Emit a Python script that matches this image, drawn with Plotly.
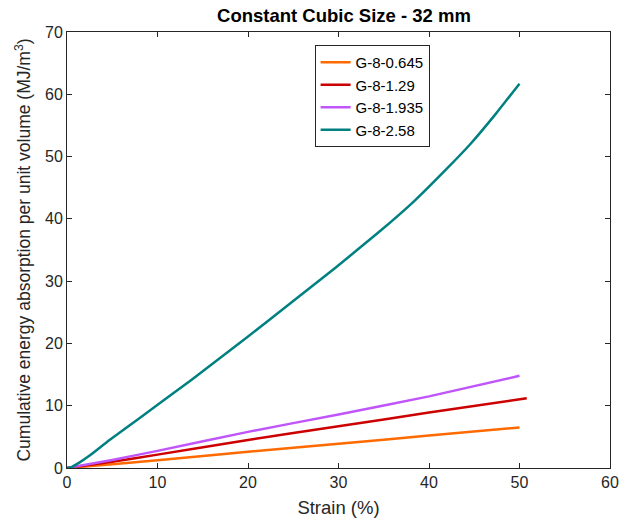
import plotly.graph_objects as go

# Strain (%) and cumulative energy absorption (MJ/m^3)
names = ["G-8-0.645", "G-8-1.29", "G-8-1.935", "G-8-2.58"]
colors = ["#FF6A00", "#CC0000", "#BF55FA", "#008080"]

x_0645 = [0, 5, 10, 20, 30, 40, 50]
y_0645 = [0, 0.6, 1.25, 2.6, 3.9, 5.2, 6.5]

x_129 = [0, 5, 10, 20, 30, 40, 50.8]
y_129 = [0, 1.0, 2.15, 4.5, 6.7, 8.9, 11.2]

x_1935 = [0, 5, 10, 20, 30, 40, 50]
y_1935 = [0, 1.3, 2.75, 5.8, 8.6, 11.5, 14.8]

x_258 = [0, 0.5, 1.4, 2.5, 4.7, 8, 13.7, 19.9, 25, 29.7, 34.4, 38.4, 42, 44.5, 47.4, 50]
y_258 = [0, 0.15, 0.9, 2.0, 4.5, 8.0, 14.1, 21.0, 26.8, 32.2, 37.8, 42.9, 48.1, 51.9, 56.9, 61.7]

series = [(x_0645, y_0645), (x_129, y_129), (x_1935, y_1935), (x_258, y_258)]

fig = go.Figure()
for (xs, ys), n, c in zip(series, names, colors):
    fig.add_trace(go.Scatter(x=xs, y=ys, mode="lines", name=n,
                             line=dict(color=c, width=2.5, shape="spline", smoothing=0.4)))

font_family = "Liberation Sans, Arial, sans-serif"
axis_common = dict(showline=True, linecolor="#262626", linewidth=1, mirror="ticks",
                   ticks="inside", ticklen=5, tickcolor="#262626", showgrid=False,
                   tickfont=dict(size=16, color="#262626", family=font_family))

fig.update_layout(
    width=630, height=525,
    margin=dict(l=67, r=11, t=32, b=57),
    paper_bgcolor="white", plot_bgcolor="white",
    font=dict(family=font_family, color="#262626"),
    title=dict(text="<b>Constant Cubic Size - 32 mm</b>", x=0.546, xanchor="center",
               y=0.971, yanchor="middle", font=dict(size=18.5, color="#000000")),
    xaxis=dict(range=[0, 60], dtick=10, zeroline=False,
               title=dict(text="Strain (%)", font=dict(size=18.5), standoff=10), **axis_common),
    yaxis=dict(range=[0, 70], dtick=10, zeroline=True, zerolinecolor="#A0A0A0", zerolinewidth=2,
               title=dict(text="Cumulative energy absorption per unit volume (MJ/m<sup>3</sup>)",
                          font=dict(size=17.5), standoff=9), **axis_common),
    legend=dict(x=0.456, y=0.97, xanchor="left", yanchor="top",
                bgcolor="white", bordercolor="#262626", borderwidth=1,
                font=dict(size=15, color="#000000"), tracegroupgap=0),
    showlegend=True,
)

fig.write_html("out.html")
